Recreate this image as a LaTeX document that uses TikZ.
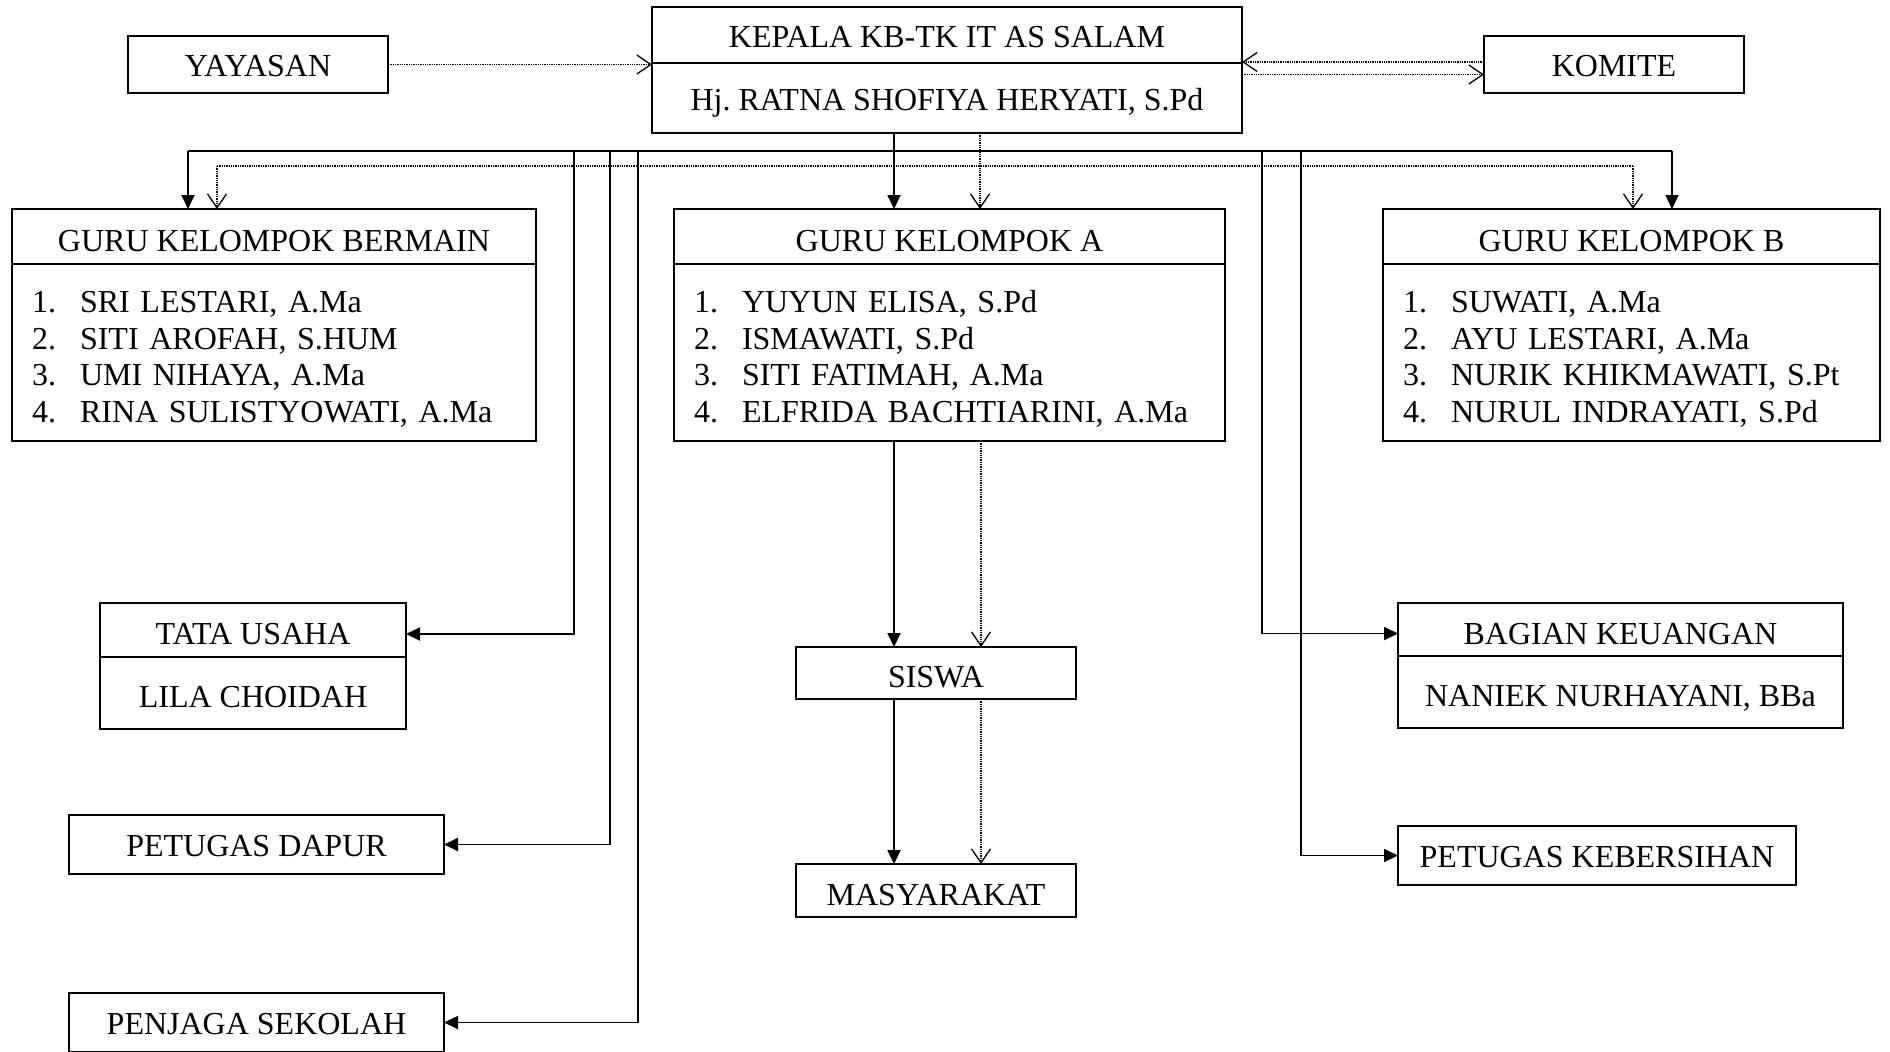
\documentclass[tikz,border=0pt]{standalone}
\usepackage{fontspec}
\setmainfont{Liberation Serif}
\usetikzlibrary{arrows.meta,positioning}
\newcommand{\nomor}[1]{\makebox[48pt][l]{#1}}
\frenchspacing

\begin{document}
\begin{tikzpicture}[x=1pt, y=-1pt, node distance=0pt,
  frame node/.style={draw, line width=1.8pt, inner sep=0pt, outer sep=0pt, font=\fontsize{32}{36.7}\selectfont},
  box node/.style={frame node, text height=29pt, text depth=0pt},
  high node/.style={box node, text height=24pt},
  list node/.style={frame node, align=left, inner xsep=20pt, text height=35pt},
  solid line/.style={line width=1.8pt},
  solid arrow/.style={solid line, -{Triangle[length=14pt,width=13pt]}},
  dotted line/.style={line width=1.3pt, densely dotted},
  dotted arrow/.style={dotted line, -{Straight Barb[length=14pt,width=19pt,line width=1.3pt]}}]
\useasboundingbox (0,0) rectangle (1890,1052);

% pimpinan
\node[high node, minimum width=590pt, minimum height=56pt] (kepala) at (947,35) {KEPALA KB-TK IT AS SALAM};
\node[high node, minimum width=590pt, minimum height=70pt, below=of kepala] (kepalanama) {Hj. RATNA SHOFIYA HERYATI, S.Pd};
\node[high node, minimum width=260pt, minimum height=57pt] (yayasan) at (258,64.5) {YAYASAN};
\node[high node, minimum width=260pt, minimum height=57pt] (komite) at (1614,64.5) {KOMITE};

% guru
\node[box node, minimum width=524pt, minimum height=55pt] (bermain) at (274,236.5) {GURU KELOMPOK BERMAIN};
\node[list node, text width=484pt, minimum height=177pt, below=of bermain] (bermainisi)
  {\nomor{1.}SRI LESTARI, A.Ma\\\nomor{2.}SITI AROFAH, S.HUM\\\nomor{3.}UMI NIHAYA, A.Ma\\\nomor{4.}RINA SULISTYOWATI, A.Ma};
\node[box node, minimum width=551pt, minimum height=55pt] (guruA) at (949.5,236.5) {GURU KELOMPOK A};
\node[list node, text width=511pt, minimum height=177pt, below=of guruA] (guruAisi)
  {\nomor{1.}YUYUN ELISA, S.Pd\\\nomor{2.}ISMAWATI, S.Pd\\\nomor{3.}SITI FATIMAH, A.Ma\\\nomor{4.}ELFRIDA BACHTIARINI, A.Ma};
\node[box node, minimum width=497pt, minimum height=55pt] (guruB) at (1631.5,236.5) {GURU KELOMPOK B};
\node[list node, text width=457pt, minimum height=177pt, below=of guruB] (guruBisi)
  {\nomor{1.}SUWATI, A.Ma\\\nomor{2.}AYU LESTARI, A.Ma\\\nomor{3.}NURIK KHIKMAWATI, S.Pt\\\nomor{4.}NURUL INDRAYATI, S.Pd};

% staf
\node[box node, minimum width=306pt, minimum height=54pt] (tatausaha) at (253,630) {TATA USAHA};
\node[box node, minimum width=306pt, minimum height=72pt, below=of tatausaha] (tatausahanama) {LILA CHOIDAH};
\node[high node, minimum width=375pt, minimum height=59pt] (dapur) at (256.5,844.5) {PETUGAS DAPUR};
\node[high node, minimum width=375pt, minimum height=59pt] (penjaga) at (256.5,1022.5) {PENJAGA SEKOLAH};
\node[box node, minimum width=445pt, minimum height=53pt] (keuangan) at (1620.5,629.5) {BAGIAN KEUANGAN};
\node[box node, minimum width=445pt, minimum height=72pt, below=of keuangan] (keuangannama) {NANIEK NURHAYANI, BBa};
\node[high node, minimum width=398pt, minimum height=59pt] (kebersihan) at (1597,855.5) {PETUGAS KEBERSIHAN};
\node[box node, minimum width=280pt, minimum height=52pt] (siswa) at (936,673) {SISWA};
\node[box node, minimum width=280pt, minimum height=53pt] (masyarakat) at (936,890.5) {MASYARAKAT};

% titik bantu garis
\coordinate (busL) at (188,151);
\coordinate (busR) at (1672,151);
\coordinate (dotL) at (217,166);
\coordinate (dotR) at (1633,166);
\coordinate (tuAtas) at (574,151);
\coordinate (dapurAtas) at (610,151);
\coordinate (penjagaAtas) at (638,151);
\coordinate (uangAtas) at (1262,151);
\coordinate (bersihAtas) at (1301,151);

% garis komando
\draw[solid line] (busL) -- (busR);
\draw[solid arrow] (busL) -- (busL |- bermain.north);
\draw[solid arrow] (busR) -- (busR |- guruB.north);
\draw[solid arrow] ([xshift=-53pt]kepalanama.south) -- ([xshift=-53pt]kepalanama.south |- guruA.north);
\draw[solid arrow] (tuAtas) |- ([yshift=-4pt]tatausaha.east);
\draw[solid arrow] (dapurAtas) |- (dapur.east);
\draw[solid arrow] (penjagaAtas) |- (penjaga.east);
\draw[solid arrow] (uangAtas) |- ([yshift=-4pt]keuangan.west);
\draw[solid arrow] (bersihAtas) |- (kebersihan.west);
\draw[solid arrow] ([xshift=-42pt]siswa.north |- guruAisi.south) -- ([xshift=-42pt]siswa.north);
\draw[solid arrow] ([xshift=-42pt]siswa.south) -- ([xshift=-42pt]masyarakat.north);

% garis koordinasi
\draw[dotted arrow] (yayasan.east) -- (yayasan.east -| kepala.west);
\draw[dotted arrow] ([yshift=2.5pt]komite.west) -- ([yshift=2.5pt]komite.west -| kepala.east);
\draw[dotted arrow] ([yshift=-10pt]komite.west -| kepala.east) -- ([yshift=-10pt]komite.west);
\draw[dotted line] (dotL) -- (dotR);
\draw[dotted arrow] (dotL) -- (dotL |- bermain.north);
\draw[dotted arrow] (dotR) -- (dotR |- guruB.north);
\draw[dotted arrow] ([xshift=33pt]kepalanama.south) -- ([xshift=33pt]kepalanama.south |- guruA.north);
\draw[dotted arrow] ([xshift=45pt]siswa.north |- guruAisi.south) -- ([xshift=45pt]siswa.north);
\draw[dotted arrow] ([xshift=45pt]siswa.south) -- ([xshift=45pt]masyarakat.north);

\end{tikzpicture}
\end{document}
